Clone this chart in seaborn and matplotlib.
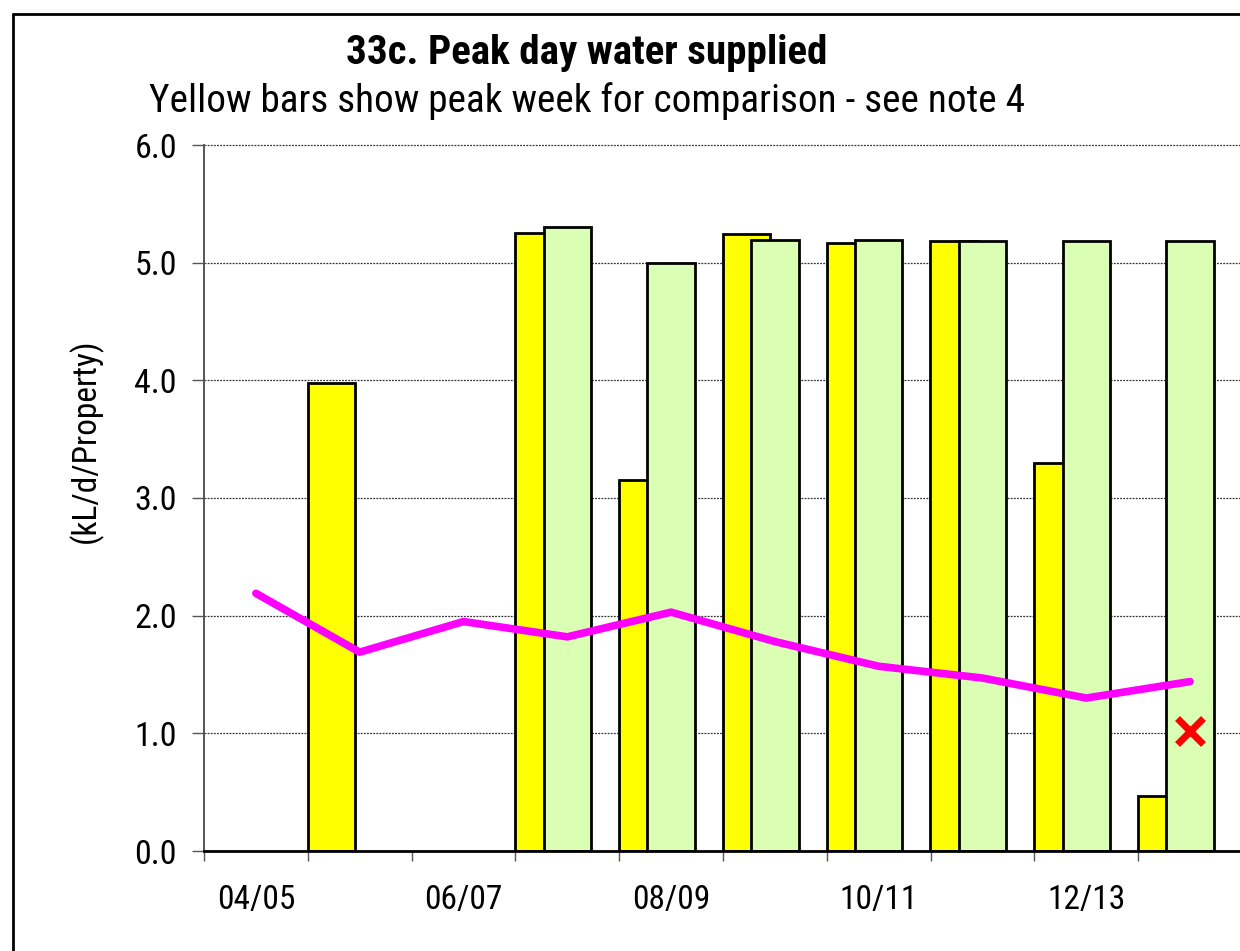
import numpy as np
import pandas as pd
import matplotlib
matplotlib.use("Agg")
import matplotlib.pyplot as plt
from matplotlib.lines import Line2D
import seaborn as sns

# ---- data ----
seasons = ["04/05", "05/06", "06/07", "07/08", "08/09", "09/10", "10/11", "11/12", "12/13", "13/14"]
peak_week = [np.nan, 3.98, np.nan, 5.25, 3.15, 5.24, 5.17, 5.18, 3.30, 0.47]   # yellow bars
peak_day = [np.nan, np.nan, np.nan, 5.30, 5.00, 5.19, 5.19, 5.18, 5.18, 5.18]  # green bars
average_day = [2.19, 1.69, 1.95, 1.82, 2.03, 1.78, 1.57, 1.47, 1.30, 1.44]    # magenta line
target_season = ["13/14"]
target_value = [1.02]
tick_labels = ["04/05", "06/07", "08/09", "10/11", "12/13"]

title = "33c. Peak day water supplied"
subtitle = "Yellow bars show peak week for comparison - see note 4"
ylabel = "(kL/d/Property)"

sns.set_theme(style="white")
FAM = ["Roboto Condensed", "Liberation Sans", "DejaVu Sans"]
plt.rcParams["font.family"] = FAM
plt.rcParams["text.color"] = "black"
TXT = dict(family=FAM, color="black")

W, H = 1240, 951
fig = plt.figure(figsize=(W / 100, H / 100), dpi=100)
fig.patch.set_facecolor("white")
ax = fig.add_axes([204 / W, 1 - 851 / H, 1038 / W, (851 - 145) / H])
ax.set_facecolor("white")

df = pd.DataFrame({"season": seasons, "week": peak_week, "day": peak_day, "avg": average_day})

# yellow bars (peak week), shifted to the left part of each slot
sns.barplot(data=df, x="season", y="week", order=seasons, width=0.455, color="#FFFF00",
            saturation=1, edgecolor="black", linewidth=2.0, ax=ax, zorder=2)
for p in list(ax.patches):
    p.set_x(p.get_x() - 0.275)

# green bars (peak day), centred in each slot
sns.barplot(data=df, x="season", y="day", order=seasons, width=0.455, color="#DAFFB4",
            saturation=1, edgecolor="black", linewidth=2.0, ax=ax, zorder=3)

# magenta line
sns.lineplot(x=np.arange(len(seasons)), y=df["avg"].values, color="#FF00FF", linewidth=5.5,
             ax=ax, zorder=5, solid_capstyle="round", solid_joinstyle="round")

# red cross
xpos = [seasons.index(s) for s in target_season]
ax.plot(xpos, target_value, linestyle="none", marker="x", markersize=19, markeredgewidth=5,
        color="#FF0000", zorder=6)

ax.set_xlim(-0.5, len(seasons) - 0.5)
ax.set_ylim(0, 6)
ax.set_xlabel("")
ax.set_ylabel("")

# gridlines
for yv in [1, 2, 3, 4, 5, 6]:
    ax.axhline(yv, color="#333333", linewidth=0.9, linestyle=(0, (1.5, 1.0)), zorder=1, clip_on=False)

# spines
for s in ["top", "right"]:
    ax.spines[s].set_visible(False)
ax.spines["left"].set_color("#555555")
ax.spines["left"].set_linewidth(1.4)
ax.spines["bottom"].set_color("black")
ax.spines["bottom"].set_linewidth(2.0)
ax.spines["left"].set_zorder(4)
ax.spines["bottom"].set_zorder(4)

# ticks
ax.set_yticks([0, 1, 2, 3, 4, 5, 6])
ax.set_yticklabels([f"{v:.1f}" for v in [0, 1, 2, 3, 4, 5, 6]], fontsize=24.5, **TXT)
ax.tick_params(axis="y", which="major", direction="out", length=8.5, width=1.0, color="#555555",
               pad=11, left=True)
ax.set_xticks(np.arange(len(seasons) + 1) - 0.5)
ax.set_xticklabels([""] * (len(seasons) + 1))
ax.tick_params(axis="x", which="major", direction="out", length=7.5, width=1.0, color="#555555",
               bottom=True)
ax.set_xticks([seasons.index(t) for t in tick_labels], minor=True)
ax.set_xticklabels(tick_labels, minor=True, fontsize=24, **TXT)
ax.tick_params(axis="x", which="minor", length=0, pad=24)
ax.grid(False)

# titles
fig.text(587 / W, 1 - 53 / H, title, ha="center", va="center", fontsize=29.5, fontweight="bold", **TXT)
fig.text(587 / W, 1 - 101 / H, subtitle, ha="center", va="center", fontsize=28.3, **TXT)
fig.text(86 / W, 1 - 441 / H, ylabel, ha="center", va="center", rotation=90, fontsize=24, **TXT)

# outer chart border (cropped on right and bottom)
fig.add_artist(Line2D([13 / W, 13 / W], [1 - 14 / H, -0.05], transform=fig.transFigure,
                      color="black", linewidth=2.0))
fig.add_artist(Line2D([13 / W, 1.05], [1 - 14 / H, 1 - 14 / H], transform=fig.transFigure,
                      color="black", linewidth=2.0))

fig.savefig("out.png", dpi=100)
